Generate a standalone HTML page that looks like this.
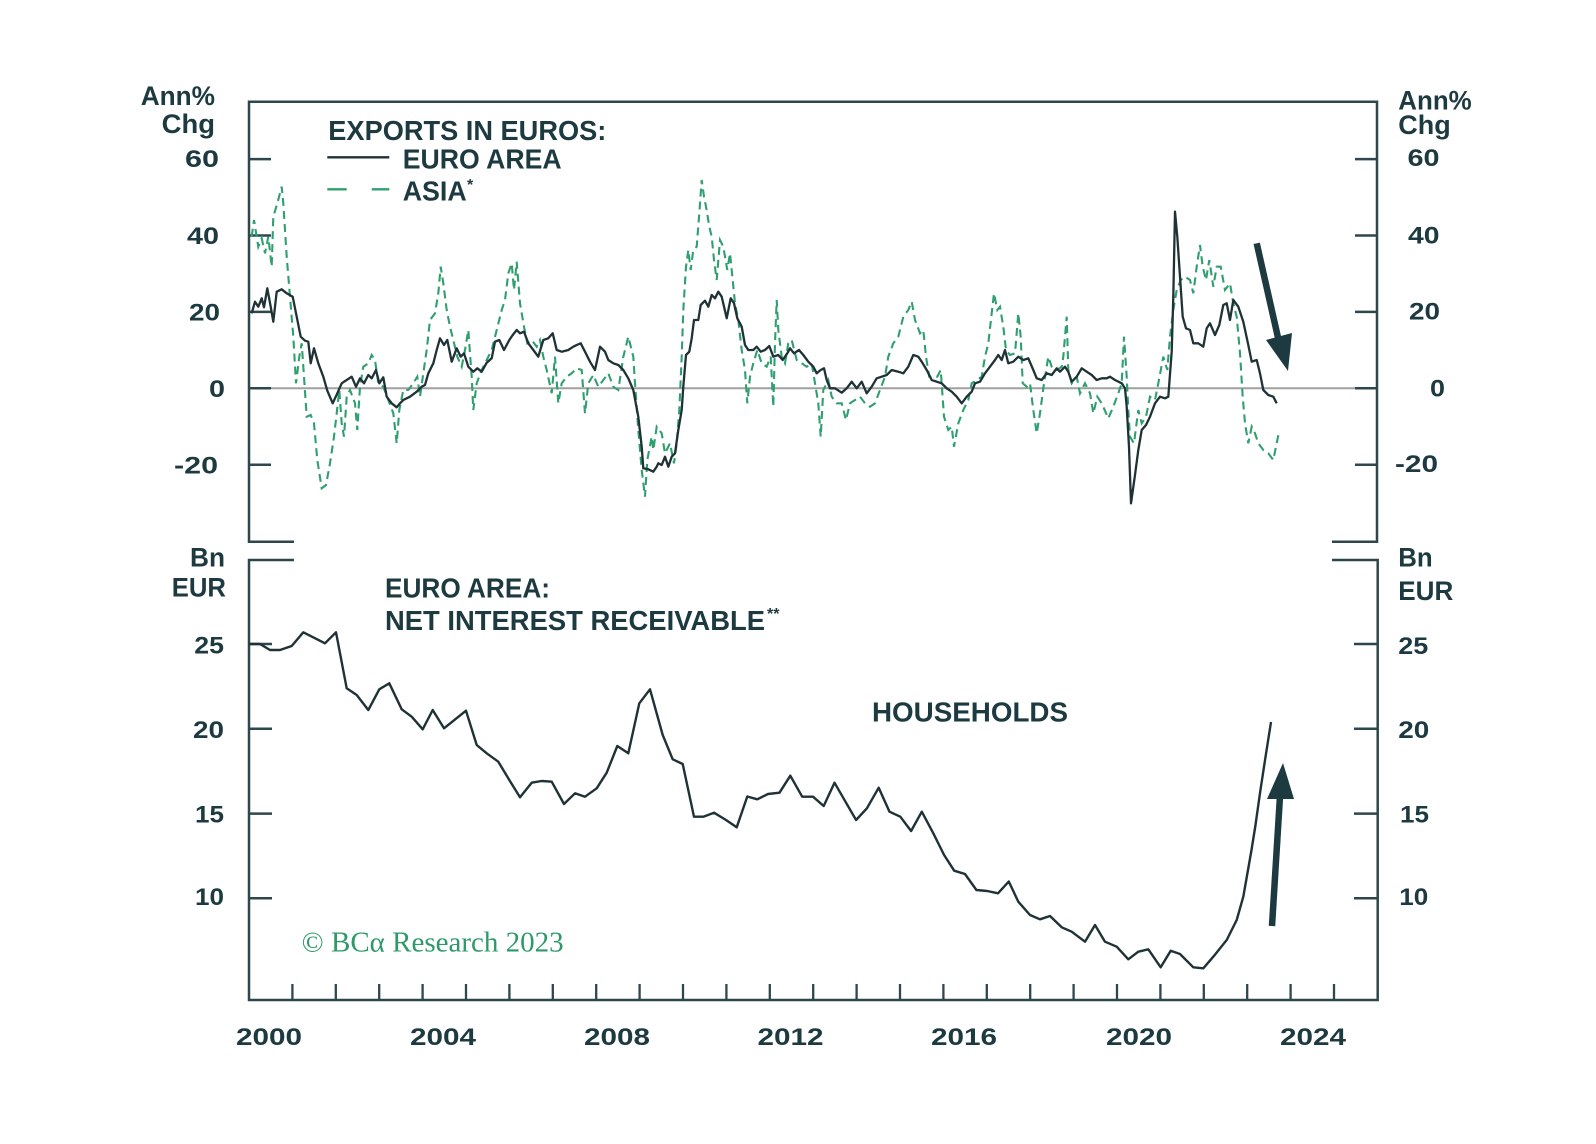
<!DOCTYPE html>
<html>
<head>
<meta charset="utf-8">
<style>
html,body{margin:0;padding:0;background:#fff;}
svg{display:block;}
.t{font-family:"Liberation Sans",Arial,sans-serif;font-weight:bold;fill:#1d3a40;}
.n{font-family:"Liberation Sans",Arial,sans-serif;font-weight:bold;fill:#1d3a40;font-size:24px;}
</style>
</head>
<body>
<svg width="1596" height="1144" viewBox="0 0 1596 1144" xmlns="http://www.w3.org/2000/svg">
<rect width="1596" height="1144" fill="#fff"/>

<!-- zero line -->
<line x1="249" y1="388.3" x2="1377" y2="388.3" stroke="#a0a0a0" stroke-width="2"/>

<g stroke="#2d474c" stroke-width="2.5" fill="none">
<polyline points="294,541.7 249,541.7 249,101.7 1377,101.7 1377,541.7 1332,541.7"/>
<polyline points="294,560 249,560 249,1000 1377.7,1000 1377.7,560 1332,560"/>
<line x1="249" y1="159.1" x2="271" y2="159.1"/>
<line x1="249" y1="235.5" x2="271" y2="235.5"/>
<line x1="249" y1="311.9" x2="271" y2="311.9"/>
<line x1="249" y1="388.3" x2="271" y2="388.3"/>
<line x1="249" y1="464.7" x2="271" y2="464.7"/>
<line x1="1355" y1="159.1" x2="1377" y2="159.1"/>
<line x1="1355" y1="235.5" x2="1377" y2="235.5"/>
<line x1="1355" y1="311.9" x2="1377" y2="311.9"/>
<line x1="1355" y1="388.3" x2="1377" y2="388.3"/>
<line x1="1355" y1="464.7" x2="1377" y2="464.7"/>
<line x1="249" y1="644" x2="272" y2="644"/>
<line x1="249" y1="728.8" x2="272" y2="728.8"/>
<line x1="249" y1="813.6" x2="272" y2="813.6"/>
<line x1="249" y1="898.3" x2="272" y2="898.3"/>
<line x1="1354" y1="644" x2="1377" y2="644"/>
<line x1="1354" y1="728.8" x2="1377" y2="728.8"/>
<line x1="1354" y1="813.6" x2="1377" y2="813.6"/>
<line x1="1354" y1="898.3" x2="1377" y2="898.3"/>
</g>
<g stroke="#2d474c" stroke-width="2.3">
<line x1="292.4" y1="984" x2="292.4" y2="1000"/>
<line x1="335.8" y1="984" x2="335.8" y2="1000"/>
<line x1="379.2" y1="984" x2="379.2" y2="1000"/>
<line x1="422.6" y1="984" x2="422.6" y2="1000"/>
<line x1="466" y1="984" x2="466" y2="1000"/>
<line x1="509.4" y1="984" x2="509.4" y2="1000"/>
<line x1="552.8" y1="984" x2="552.8" y2="1000"/>
<line x1="596.2" y1="984" x2="596.2" y2="1000"/>
<line x1="639.6" y1="984" x2="639.6" y2="1000"/>
<line x1="683" y1="984" x2="683" y2="1000"/>
<line x1="726.4" y1="984" x2="726.4" y2="1000"/>
<line x1="769.8" y1="984" x2="769.8" y2="1000"/>
<line x1="813.2" y1="984" x2="813.2" y2="1000"/>
<line x1="856.6" y1="984" x2="856.6" y2="1000"/>
<line x1="900" y1="984" x2="900" y2="1000"/>
<line x1="943.4" y1="984" x2="943.4" y2="1000"/>
<line x1="986.8" y1="984" x2="986.8" y2="1000"/>
<line x1="1030.2" y1="984" x2="1030.2" y2="1000"/>
<line x1="1073.6" y1="984" x2="1073.6" y2="1000"/>
<line x1="1117" y1="984" x2="1117" y2="1000"/>
<line x1="1160.4" y1="984" x2="1160.4" y2="1000"/>
<line x1="1203.8" y1="984" x2="1203.8" y2="1000"/>
<line x1="1247.2" y1="984" x2="1247.2" y2="1000"/>
<line x1="1290.6" y1="984" x2="1290.6" y2="1000"/>
<line x1="1334" y1="984" x2="1334" y2="1000"/>
</g>

<!-- Asia dashed -->
<polyline fill="none" stroke="#2f9f6f" stroke-width="2.1" stroke-dasharray="8,5" points="251.7,236.7 254,220 258.3,246.7 261.7,238.3 265,253.3 268.3,236.7 271.7,266.7 273.3,216.7 277.3,203.3 281.7,186.7 283.3,203.3 286.7,256.7 290,296.7 293.3,336.7 296,383.3 299.3,356.7 301.7,343.3 304,376.7 306.7,416.7 310.7,415 314,423.3 317.3,460 321.7,488.3 326,485 330,463.3 334,436.7 336.7,413.3 339.3,390 341.7,423.3 344,436.7 346.7,396.7 350,390 355,403.3 357.3,430 360,386.7 363.3,366.7 368.3,363.3 371.7,355 375,360 378.3,383.3 383.3,386.7 388.3,400 393.3,413.3 396.7,443.3 399.3,410 403.3,390 408.3,390 413.3,383.3 417.3,376.7 420,396.7 423.3,373.3 426.7,350 430,320 435,313.3 438.3,293.3 440.7,266.7 443.3,283.3 446.7,310 450,326.7 453.3,340 457.3,356.7 461.7,366.7 465,350 468.3,330 471.7,376.7 473.3,410 476.7,383.3 481.7,370 486.7,360 491.7,350 496.7,330 501.7,310 505,300 508.3,273.3 511.7,263.3 514,290 516.7,261.7 520,303.3 524,326.7 527.3,343.3 531.7,340 536.7,346.7 540,340 543.3,356.7 546.7,370 551.7,393.3 555,356.7 558.3,403.3 561.7,383.3 566.7,376.7 571.7,373.3 576.7,368.3 581.7,370 585,413.3 588.3,383.3 593.3,375 598.3,386.7 603.3,380 608.3,373.3 613.3,386.7 618.3,390 623.3,356.7 628.3,336.7 633.3,356.7 635,383.3 638.3,430 641.7,470 645,496.7 647.3,460 651.7,436.7 653.3,450 656.7,426.7 661.7,433.3 665,453.3 670,443.3 674,463.3 676.7,443.3 679.3,410 681.7,356.7 683.3,310 686,266.7 688.3,250 690.7,270 693.3,250 696.7,246.7 699.3,213.3 701.7,180 704,196.7 706.7,210 709.3,226.7 711.7,236.7 714,260 716.7,280 720,240 723.3,246.7 727.3,270 730,253.3 732.7,280 735,303.3 738.3,320 741.7,350 745,370 747.3,403.3 750,376.7 753.3,363.3 757.3,350 761.7,363.3 766.7,366.7 770.7,356.7 773.3,406.7 775,343.3 776.7,300 778.3,330 781.7,356.7 785,363.3 788.3,343.3 791.7,340 796.7,360 801.7,363.3 806.7,366.7 811.7,363.3 815,383.3 818.3,403.3 820.7,436.7 823.3,390 828.3,380 831.7,396.7 836.7,403.3 841.7,403.3 846,420 850,403.3 855,400 860,396.7 865,403.3 870,406.7 875,403.3 880,390 885,376.7 888.3,356.7 893.3,343.3 898.3,336.7 903.3,316.7 908.3,310 911.7,301.7 915,320 920,333.3 923.3,330 926,356.7 929.3,376.7 933.3,376.7 937.3,376.7 940.7,370 944,416.7 948.3,430 951.7,426.7 954,446.7 958.3,423.3 963.3,410 968.3,400 971.7,383.3 976.7,380 981.7,376.7 985,356.7 988.3,343.3 991.7,313.3 994,293.3 997.3,310 1000,306.7 1003.3,326.7 1006,350 1010,355 1015,353.3 1018.3,313.3 1020.7,336.7 1022.7,383.3 1026.7,386.7 1030,383.3 1033.3,410 1036.7,433.3 1040,413.3 1044,383.3 1048.3,356.7 1051.7,366.7 1056.7,370 1061.7,366.7 1063.3,356.7 1066.7,316.7 1068.3,370 1071.7,383.3 1076.7,376.7 1080,393.3 1085,383.3 1090,393.3 1093.3,413.3 1097.3,396.7 1101.7,403.3 1108.3,418.3 1113.3,406.7 1118.3,393.3 1121.7,383.3 1124,336.7 1126.7,376.7 1128.3,410 1130,436.7 1134,443.3 1138.3,410 1141.7,423.3 1146,416.7 1150,396.7 1155,400 1158.3,383.3 1163.3,356.7 1167.3,370 1170,336.7 1173.3,310 1176.7,290 1180.7,280 1185,276.7 1190,280 1193.3,293.3 1196.7,266.7 1200,245 1202.7,266.7 1206,280 1209.3,260 1213.3,286.7 1216.7,266.7 1220.7,266.7 1225,290 1230,283.3 1233.3,303.3 1236.7,316.7 1240,353.3 1242.7,396.7 1245,423.3 1248.3,443.3 1251.7,426.7 1255,433.3 1258.3,443.3 1263.3,450 1268.3,453.3 1273.3,460 1276.7,443.3 1278.7,433.3"/>

<!-- Euro area solid -->
<polyline fill="none" stroke="#1f3236" stroke-width="2.3" stroke-linejoin="round" points="251.7,313.3 255,301.7 258.3,306.7 261.7,298.3 264,307.3 267.3,288.3 270.7,306.7 273.3,321.7 276.7,291.7 281.7,289.3 286.7,293.3 292.7,296.7 296.7,316.7 300.7,336.7 305,340.7 308.3,341.7 310.7,363.3 314,348.3 318.3,363.3 323.3,376.7 327.3,390.7 332.7,403.3 337.3,393.3 341.7,383.3 346.7,380 351.7,376.7 356,386.7 360,378.3 364,383.3 368.3,375 371.7,378.3 376,370 379.3,383.3 383.3,377.3 386.7,396.7 391.7,403.3 396.7,407.3 400,403.3 403.3,400 410,396.7 416.7,391.7 421.7,386.7 425,385 428.3,373.3 433.3,363.3 436.7,350 440,338.3 444,345 447.3,340 451.7,361.7 456.7,348.3 460.7,356.7 464,353.3 468.3,366.7 473.3,371.7 477.3,368.3 481.7,371.7 486.7,362.7 491.7,358.3 495,341.7 499.3,340 504,350 509.3,340 512.7,335 516.7,330 520,333.3 524,331.7 528.3,343.3 533.3,350 538.3,356.7 543.3,340 548.3,338.3 552.7,333.3 556.7,350 561.7,351.7 568.3,350 573.3,346.7 576.7,345 580.7,343.3 585,351.7 590,361.7 595,370 600,346.7 605,351.7 608.3,360 613.3,363.3 618.3,365 623.3,370 628.3,378.3 633.3,390 638.3,416.7 641.7,446.7 643.3,468.3 648.3,469.3 653.3,471.7 656.7,466.7 658.3,463.3 661.7,465 665,456.7 668.3,466.7 671.7,456.7 675,453.3 678.3,430 681.7,410 683.3,386.7 686,355 689.3,351.7 691.7,338.3 694,320 698.3,320 700.7,305 705,300.7 708.3,306.7 711.7,295 715,298.3 718.3,291.7 721.7,296.7 726.7,318.3 730.7,298.3 734,303.3 737.3,318.3 741.7,326.7 745,345 748.3,350 753.3,350 756.7,346.7 760.7,351.7 765,350 769.3,346 773.3,356.7 778.3,355 782.7,360 787.3,353.3 790,348.3 794,353.3 799,350 803.3,355 808.3,361.7 813.3,366.7 816.7,373.3 820.7,370 824,368.3 826.7,380 830,388.3 835,388.3 841.7,392.7 846.7,388.3 851.7,381.7 856.7,388.3 861.7,381.7 866.7,393.3 871.7,386.7 876.7,378.3 881.7,376.7 886.7,375 891.7,370 898.3,371.7 903.3,373.3 908.3,366.7 913.3,355 918.3,356.7 921.7,361.7 926.7,370 931.7,380 936.7,381.7 941.7,383.3 946.7,388.3 951.7,391.7 956.7,396.7 961.7,403.3 966.7,396.7 971.7,391.7 975,383.3 980,381.7 985,373.3 990,366.7 995,360 998.3,355 1001.7,360 1005,350 1008.3,363.3 1013.3,361.7 1018.3,356.7 1023.3,360 1028.3,358.3 1033.3,370 1036.7,378.3 1041.7,380 1046.7,373.3 1051.7,375 1056.7,368.3 1060,371.7 1065,366.7 1068.3,371.7 1071.7,381.7 1076.7,376.7 1081.7,368.3 1086.7,371.7 1091.7,375 1096.7,380 1101.7,378.3 1106.7,378.3 1110,376.7 1115,380 1121.7,383.3 1125,388.3 1126.7,406.7 1129,446.7 1131,503.3 1135,475 1138.3,450 1141.7,430 1146,425 1150,416.7 1155,403.3 1160,396.7 1165,398.3 1168.3,396.7 1171.7,351.7 1173.3,296.7 1175,211.7 1177.3,236.7 1180,276.7 1182.7,316.7 1186,328.3 1190,330 1193.3,343.3 1198.3,343.3 1203.3,346.7 1206.7,328.3 1210,323.3 1215,335 1219.3,325 1223.3,305 1226.7,303.3 1230,320 1233.3,300 1238.3,306.7 1243.3,321.7 1248.3,345 1251.7,361.7 1256.7,360 1260,373.3 1263.3,390 1268.3,395 1273.3,396.7 1276.7,403.3"/>

<!-- Households lower -->
<polyline fill="none" stroke="#1f3236" stroke-width="2.4" stroke-linejoin="round" points="249,644 260,644 270,650 280,650 291.7,646 303.3,632.3 325,643.3 336,632.3 346.7,688.3 356.7,695 368.3,710 379.3,689.3 389.3,683.3 401.7,709.3 411.7,716.7 422.7,729.3 432.7,710 444,728.3 466,710.7 476.7,745 486.7,753.3 498.3,761.7 509.3,780 520,797.3 531.7,782.7 541.7,781 551.7,781.7 564,804 575,793.3 585,796.7 596.7,788.3 606.7,772.7 617.3,746 628.3,753.3 639.3,703.3 650,689.3 662.7,735 672.7,759.3 682.7,764 694,816.7 703.3,816.7 714,812.7 726,820 736.7,827.3 747.3,796.5 757.3,799.3 768,794 779.5,792.7 790.3,775.7 802.2,796.7 813,796.7 823.7,806 834.5,782.7 846.4,803.3 856.1,820 866.9,808.3 878.7,787.7 889.5,811.7 900.3,816.7 911.1,831 921.8,811.7 933.3,833.3 944.1,855 954.2,870.7 965,874 976.4,890 987.2,891 998,893.3 1008.8,881.5 1018.3,901.7 1030,915 1040,919.3 1050,916 1061.7,927.3 1071.7,931.7 1085,941.7 1095,925 1105,941.7 1116.7,946.7 1128.3,959.3 1138.3,951.7 1148.3,949.3 1160.7,967.3 1170.7,950.7 1180,954 1193.3,967.3 1203.3,968.3 1213.3,956.7 1226.7,940 1236.7,920 1243.3,896.7 1248,870 1251.5,850 1255.5,825 1260,793 1265.5,757 1271,722"/>

<!-- arrows -->
<line x1="1256.7" y1="243.3" x2="1279" y2="342" stroke="#1d3a40" stroke-width="6.5"/>
<polygon points="1266,340 1292,333 1288,371" fill="#1d3a40"/>
<line x1="1272" y1="926" x2="1280" y2="796" stroke="#1d3a40" stroke-width="6.5"/>
<polygon points="1267,799 1294,799 1283,763" fill="#1d3a40"/>

<!-- legend -->
<line x1="327.3" y1="157.3" x2="389.3" y2="157.3" stroke="#1f3236" stroke-width="2.3"/>
<line x1="327.3" y1="189.3" x2="346.7" y2="189.3" stroke="#2f9f6f" stroke-width="2.3"/>
<line x1="371.7" y1="189.3" x2="389.3" y2="189.3" stroke="#2f9f6f" stroke-width="2.3"/>
<text class="t" x="328.3" y="140" font-size="28" textLength="278" lengthAdjust="spacingAndGlyphs">EXPORTS IN EUROS:</text>
<text class="t" x="402.7" y="168.3" font-size="28" textLength="159" lengthAdjust="spacingAndGlyphs">EURO AREA</text>
<text class="t" x="402.7" y="200.7" font-size="28" textLength="64" lengthAdjust="spacingAndGlyphs">ASIA</text>
<text class="t" x="467" y="190" font-size="16">*</text>

<!-- upper axis labels left -->
<text class="t" x="140.7" y="105" font-size="27" textLength="74.3" lengthAdjust="spacingAndGlyphs">Ann%</text>
<text class="t" x="161.7" y="133" font-size="27" textLength="53.3" lengthAdjust="spacingAndGlyphs">Chg</text>
<text class="n" x="185" y="167" textLength="34" lengthAdjust="spacingAndGlyphs">60</text>
<text class="n" x="187" y="244" textLength="32" lengthAdjust="spacingAndGlyphs">40</text>
<text class="n" x="189" y="320.5" textLength="31" lengthAdjust="spacingAndGlyphs">20</text>
<text class="n" x="209" y="397" textLength="16" lengthAdjust="spacingAndGlyphs">0</text>
<text class="n" x="174" y="473.5" textLength="44" lengthAdjust="spacingAndGlyphs">-20</text>

<!-- upper axis labels right -->
<text class="t" x="1398.3" y="109.3" font-size="27" textLength="73.4" lengthAdjust="spacingAndGlyphs">Ann%</text>
<text class="t" x="1398.3" y="134" font-size="27" textLength="52.4" lengthAdjust="spacingAndGlyphs">Chg</text>
<text class="n" x="1407.5" y="166" textLength="32" lengthAdjust="spacingAndGlyphs">60</text>
<text class="n" x="1408" y="243.5" textLength="31.5" lengthAdjust="spacingAndGlyphs">40</text>
<text class="n" x="1409" y="319.5" textLength="31" lengthAdjust="spacingAndGlyphs">20</text>
<text class="n" x="1430" y="396.5" textLength="15" lengthAdjust="spacingAndGlyphs">0</text>
<text class="n" x="1395" y="472" textLength="43" lengthAdjust="spacingAndGlyphs">-20</text>

<!-- lower axis labels left -->
<text class="t" x="190" y="566.7" font-size="27" textLength="35" lengthAdjust="spacingAndGlyphs">Bn</text>
<text class="t" x="171.7" y="596.7" font-size="27" textLength="54.3" lengthAdjust="spacingAndGlyphs">EUR</text>
<text class="n" x="194.3" y="653.3" textLength="29.7" lengthAdjust="spacingAndGlyphs">25</text>
<text class="n" x="193" y="738" textLength="31" lengthAdjust="spacingAndGlyphs">20</text>
<text class="n" x="195" y="822.5" textLength="29" lengthAdjust="spacingAndGlyphs">15</text>
<text class="n" x="195" y="905" textLength="29" lengthAdjust="spacingAndGlyphs">10</text>

<!-- lower axis labels right -->
<text class="t" x="1398.3" y="566.7" font-size="27" textLength="34.4" lengthAdjust="spacingAndGlyphs">Bn</text>
<text class="t" x="1398.3" y="600" font-size="27" textLength="55" lengthAdjust="spacingAndGlyphs">EUR</text>
<text class="n" x="1398.3" y="654" textLength="30" lengthAdjust="spacingAndGlyphs">25</text>
<text class="n" x="1398.3" y="738" textLength="31" lengthAdjust="spacingAndGlyphs">20</text>
<text class="n" x="1400" y="822.5" textLength="29" lengthAdjust="spacingAndGlyphs">15</text>
<text class="n" x="1399.3" y="905" textLength="29" lengthAdjust="spacingAndGlyphs">10</text>

<!-- lower titles -->
<text class="t" x="385" y="597.3" font-size="28" textLength="165" lengthAdjust="spacingAndGlyphs">EURO AREA:</text>
<text class="t" x="385" y="630" font-size="28" textLength="380" lengthAdjust="spacingAndGlyphs">NET INTEREST RECEIVABLE</text>
<text class="t" x="767" y="619" font-size="16">**</text>
<text class="t" x="872" y="721.7" font-size="28" textLength="196" lengthAdjust="spacingAndGlyphs">HOUSEHOLDS</text>

<!-- copyright -->
<text x="301.7" y="951.7" font-family="Liberation Serif, serif" font-size="28" fill="#2e9a6a" textLength="262" lengthAdjust="spacingAndGlyphs">© BCα Research 2023</text>

<!-- year labels -->
<text class="n" x="236" y="1045" font-size="25" textLength="66" lengthAdjust="spacingAndGlyphs">2000</text>
<text class="n" x="410" y="1045" font-size="25" textLength="66" lengthAdjust="spacingAndGlyphs">2004</text>
<text class="n" x="584" y="1045" font-size="25" textLength="66" lengthAdjust="spacingAndGlyphs">2008</text>
<text class="n" x="757.5" y="1045" font-size="25" textLength="66" lengthAdjust="spacingAndGlyphs">2012</text>
<text class="n" x="931" y="1045" font-size="25" textLength="66" lengthAdjust="spacingAndGlyphs">2016</text>
<text class="n" x="1106" y="1045" font-size="25" textLength="66" lengthAdjust="spacingAndGlyphs">2020</text>
<text class="n" x="1280" y="1045" font-size="25" textLength="66" lengthAdjust="spacingAndGlyphs">2024</text>
</svg>
</body>
</html>
